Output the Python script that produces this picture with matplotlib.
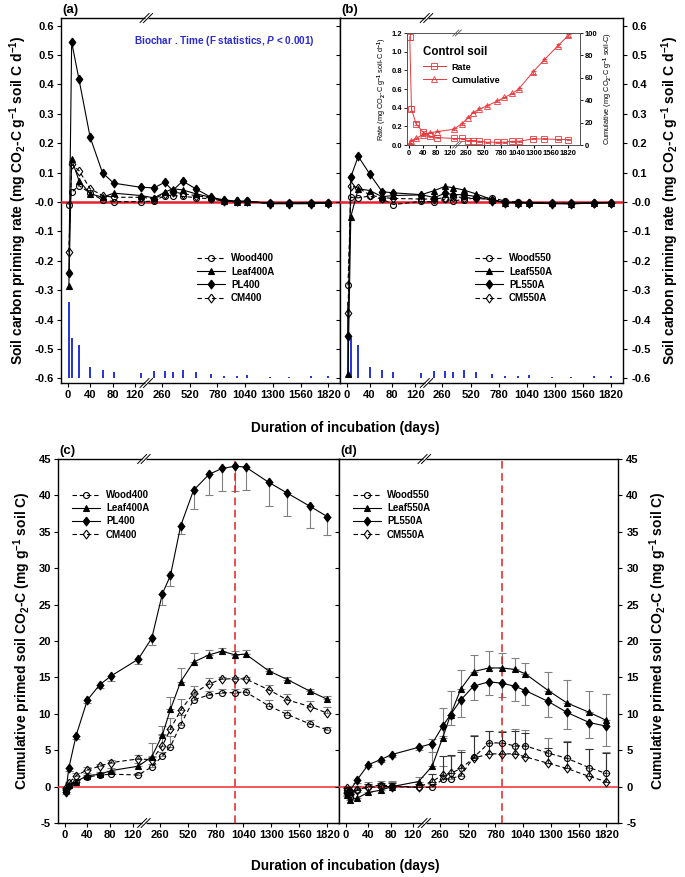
import numpy as np
import matplotlib
matplotlib.use('Agg')
import matplotlib.pyplot as plt
from matplotlib.ticker import NullLocator, FormatStrFormatter
from matplotlib.lines import Line2D

plt.rcParams['font.family'] = ['Liberation Sans', 'DejaVu Sans']
plt.rcParams['font.weight'] = 'bold'
plt.rcParams['axes.unicode_minus'] = False
plt.rcParams['mathtext.fontset'] = 'custom'
plt.rcParams['mathtext.rm'] = 'Liberation Sans:bold'
plt.rcParams['mathtext.it'] = 'Liberation Sans:bold:italic'
plt.rcParams['mathtext.bf'] = 'Liberation Sans:bold'

# sampling days (incubation)
days = [2, 7, 20, 40, 62, 82, 130, 200, 285, 360, 455, 575, 720, 840, 960, 1060, 1275, 1450, 1660, 1820]
xticks = [0, 40, 80, 120, 260, 520, 780, 1040, 1300, 1560, 1820]

# priming rate, 400 C biochars (a)
wood400_rate = [-0.01, 0.033, 0.056, 0.03, 0.007, 0.001, 0.001, 0.003, 0.022, 0.022, 0.019, 0.015, 0.010, 0.003, 0.001, 0.002, -0.005, -0.005, -0.005, -0.004]
leaf400a_rate = [-0.285, 0.145, 0.073, 0.028, 0.016, 0.030, 0.022, 0.014, 0.033, 0.045, 0.041, 0.028, 0.016, 0.004, 0.0, 0.001, -0.004, -0.004, -0.002, -0.002]
pl400_rate = [-0.243, 0.544, 0.418, 0.220, 0.099, 0.064, 0.050, 0.048, 0.067, 0.039, 0.071, 0.045, 0.016, 0.007, 0.003, 0.003, -0.006, -0.006, -0.006, -0.004]
cm400_rate = [-0.171, 0.128, 0.107, 0.045, 0.022, 0.016, 0.016, 0.011, 0.028, 0.035, 0.028, 0.022, 0.014, 0.004, 0.002, 0.002, -0.004, -0.004, -0.004, -0.003]

# priming rate, 550 C biochars (b)
wood550_rate = [-0.284, 0.016, 0.014, 0.020, 0.010, -0.009, 0.002, 0.0, 0.010, 0.004, 0.008, 0.014, 0.014, 0.003, 0.0, -0.002, -0.004, -0.004, -0.003, -0.002]
leaf550a_rate = [-0.587, -0.05, 0.045, 0.039, 0.018, 0.022, 0.024, 0.039, 0.053, 0.048, 0.041, 0.027, 0.008, -0.002, -0.003, -0.003, -0.005, -0.006, -0.004, -0.002]
pl550a_rate = [-0.455, 0.085, 0.155, 0.096, 0.035, 0.031, 0.025, 0.015, 0.030, 0.025, 0.025, 0.018, 0.005, -0.002, -0.003, -0.003, -0.006, -0.006, -0.004, -0.002]
cm550a_rate = [-0.378, 0.056, 0.048, 0.024, 0.015, 0.012, 0.010, 0.010, 0.015, 0.018, 0.015, 0.012, 0.008, 0.0, -0.002, -0.002, -0.004, -0.004, -0.003, -0.002]

# LSD bars (Biochar x Time), drawn up from -0.6
lsd = [0.26, 0.138, 0.112, 0.038, 0.029, 0.021, 0.018, 0.024, 0.025, 0.021, 0.027, 0.021, 0.013, 0.009, 0.009, 0.011, 0.006, 0.006, 0.007, 0.008]

# control soil (inset)
ctrl_rate = [1.16, 0.39, 0.23, 0.14, 0.095, 0.08, 0.07, 0.07, 0.045, 0.045, 0.04, 0.03, 0.03, 0.03, 0.04, 0.04, 0.065, 0.065, 0.06, 0.058]
ctrl_rate_err = [0.04, 0.03, 0.02, 0.015, 0.005, 0.005, 0.005, 0.005, 0.005, 0.005, 0.005, 0.005, 0.005, 0.005, 0.005, 0.005, 0.005, 0.005, 0.005, 0.005]
ctrl_cum = [1, 3.8, 6, 9, 11, 12, 14, 19, 24.5, 29, 32, 35, 39, 42.5, 46, 50, 65, 76, 88.6, 97.8]
ctrl_cum_err = [0.5, 0.5, 0.6, 0.8, 0.6, 0.6, 0.8, 0.8, 0.8, 0.8, 0.8, 0.8, 0.8, 0.8, 0.8, 0.8, 1.2, 1.2, 1.5, 1.5]

# cumulative primed C, 400 C biochars (c)
wood400_cum = [-0.5, 0.1, 0.7, 1.3, 1.6, 1.7, 1.6, 2.7, 4.2, 5.5, 8.5, 11.9, 12.6, 12.9, 12.9, 13.0, 11.1, 9.9, 8.6, 7.8]
leaf400a_cum = [-0.4, 0.2, 0.7, 1.5, 1.7, 2.2, 2.8, 4.1, 7.1, 10.6, 14.4, 17.1, 18.1, 18.6, 18.1, 18.2, 15.9, 14.7, 13.1, 12.0]
pl400_cum = [-0.7, 2.5, 7.0, 11.9, 14.0, 15.2, 17.5, 20.4, 26.5, 29.0, 35.8, 40.7, 42.9, 43.7, 44.0, 43.9, 41.8, 40.3, 38.5, 37.1]
cm400_cum = [-0.2, 0.5, 1.5, 2.3, 2.8, 3.3, 3.8, 3.7, 5.6, 7.9, 10.5, 12.8, 14.1, 14.8, 14.8, 14.8, 13.3, 11.9, 11.0, 10.1]
wood400_err = [0.2, 0.2, 0.3, 0.3, 0.3, 0.3, 0.3, 0.4, 0.6, 1.4, 1.4, 0.8, 0.5, 0.5, 0.5, 0.5, 0.8, 0.6, 0.5, 0.4]
leaf400a_err = [0.2, 0.2, 0.3, 0.3, 0.3, 0.3, 0.4, 1.9, 1.2, 1.7, 1.9, 1.3, 0.6, 0.5, 0.5, 0.5, 0.4, 0.4, 0.3, 0.4]
pl400_err = [0.3, 0.3, 0.4, 0.4, 0.5, 0.7, 0.6, 0.9, 1.5, 1.4, 1.1, 2.5, 2.8, 3.1, 3.4, 3.2, 3.2, 3.1, 3.0, 2.6]
cm400_err = [0.2, 0.2, 0.4, 0.4, 0.3, 0.3, 0.6, 0.5, 1.6, 1.5, 1.5, 1.0, 0.8, 0.3, 0.3, 0.3, 0.7, 0.8, 0.8, 0.8]

# cumulative primed C, 550 C biochars (d)
wood550_cum = [-0.5, -1.4, -0.5, 0.0, 0.2, 0.1, -0.1, -0.1, 1.0, 1.1, 1.5, 4.0, 6.0, 6.0, 5.6, 5.6, 4.6, 3.9, 2.6, 1.8]
leaf550a_cum = [-1.2, -1.8, -1.6, -0.8, -0.5, 0.0, 0.7, 2.8, 6.7, 9.9, 13.4, 15.8, 16.3, 16.3, 16.1, 15.5, 13.2, 11.5, 10.2, 9.1]
pl550a_cum = [-0.9, -0.6, 0.9, 3.0, 3.7, 4.4, 5.4, 5.9, 8.3, 9.9, 11.9, 13.8, 14.4, 14.2, 13.8, 13.2, 11.7, 10.2, 8.8, 8.3]
cm550a_cum = [-0.2, -1.0, -0.4, -0.1, 0.0, 0.0, -0.1, 0.7, 1.6, 1.8, 2.5, 3.9, 4.5, 4.5, 4.5, 4.1, 3.2, 2.5, 1.4, 0.7]
wood550_err = [0.4, 0.5, 0.6, 0.6, 0.6, 0.6, 0.5, 0.5, 1.8, 3.1, 3.5, 3.1, 1.7, 1.7, 2.3, 2.2, 2.1, 2.3, 2.5, 2.9]
leaf550a_err = [0.5, 0.6, 0.8, 0.8, 0.9, 0.8, 0.6, 3.7, 4.1, 3.3, 2.6, 2.3, 2.3, 2.0, 1.6, 1.5, 2.5, 3.1, 3.0, 3.6]
pl550a_err = [0.4, 0.4, 0.4, 0.3, 0.3, 0.4, 0.4, 1.1, 1.4, 1.5, 2.3, 1.9, 1.8, 1.9, 2.1, 2.0, 2.2, 2.3, 2.1, 2.7]
cm550a_err = [0.3, 0.4, 0.5, 0.5, 0.5, 0.5, 0.4, 1.0, 2.6, 2.6, 2.3, 3.0, 3.1, 3.0, 3.2, 3.2, 2.1, 3.6, 3.7, 3.9]

peak_day_c = 960
peak_day_d = 840

# broken time axis: 0-140 d on one scale, then compressed after the break
BRK_DAYS = [-1000, 140, 260, 5000]
BRK_POS = [-1000, 140, 168, 168 + (5000 - 260) * 0.19]


def fwd(t):
    return np.interp(t, BRK_DAYS, BRK_POS)


def inv(p):
    return np.interp(p, BRK_POS, BRK_DAYS)


FIG_W, FIG_H = 685, 877
fig = plt.figure(figsize=(FIG_W / 100, FIG_H / 100), dpi=100)

RED = '#e4202a'
LW = 0.8
# SigmaPlot-like diamond: taller than wide
TALL_D = [(0, 1), (0.74, 0), (0, -1), (-0.74, 0), (0, 1)]
STYLE = {
    'wood': dict(marker='o', mfc='none', mec='k', color='k', ls=(0, (4, 2.5)), ms=4.3),
    'leaf': dict(marker='^', mfc='k', mec='k', color='k', ls='-', ms=4.9),
    'pl': dict(marker=TALL_D, mfc='k', mec='k', color='k', ls='-', ms=6.4),
    'cm': dict(marker=TALL_D, mfc='none', mec='k', color='k', ls=(0, (4, 2.5)), ms=6.4),
}


def px_axes(l, t, r, b):
    return fig.add_axes([l / FIG_W, 1 - b / FIG_H, (r - l) / FIG_W, (b - t) / FIG_H])


def time_axis(ax, xmin=-12, xmax=1930, size=8):
    ax.set_xscale('function', functions=(fwd, inv))
    ax.set_xlim(xmin, xmax)
    ax.set_xticks(xticks)
    ax.set_xticklabels([str(t) for t in xticks])
    ax.xaxis.set_minor_locator(NullLocator())
    ax.tick_params(axis='x', direction='out', length=3, width=0.8, labelsize=size, pad=2, top=False)
    for s in ax.spines.values():
        s.set_linewidth(1.0)


def add_break(ax, day=140, half=4.5, gap=3.5, lw=0.7, color='k'):
    x0, x1 = ax.get_xlim()
    fx = (fwd(day) - fwd(x0)) / (fwd(x1) - fwd(x0))
    pos = ax.get_position()
    wpx = pos.width * FIG_W
    hpx = pos.height * FIG_H
    dx, dy, g = half / wpx, half / hpx, gap / wpx
    for y in (0, 1):
        ax.plot([fx - g / 2, fx + g / 2], [y, y], color='white', lw=2, transform=ax.transAxes,
                clip_on=False, zorder=10, solid_capstyle='butt')
        for s in (-g / 2, g / 2):
            ax.plot([fx + s - dx, fx + s + dx], [y - dy, y + dy], color=color, lw=lw,
                    transform=ax.transAxes, clip_on=False, zorder=11)


def series(ax, key, vals, label, err=None, up=True, ecolor='#808080'):
    if err is not None:
        e = np.array(err)
        z = np.zeros_like(e)
        yerr = [z, e] if up else [e, z]
        ax.errorbar(days, vals, yerr=yerr, fmt='none', ecolor=ecolor, elinewidth=0.8,
                    capsize=2.6, capthick=0.8, zorder=2)
    st = STYLE[key]
    ax.plot(days, vals, label=label, lw=LW, zorder=4, mew=0.8, **st)


# ---------------- (a) and (b): priming rate ----------------
YLIM_RATE = (-0.616, 0.626)
rate_ticks = np.round(np.arange(-0.6, 0.61, 0.1), 1)

ax_a = px_axes(61, 18, 340, 383)
ax_b = px_axes(340, 18, 623, 383)

for ax in (ax_a, ax_b):
    time_axis(ax)
    ax.set_ylim(*YLIM_RATE)
    ax.set_yticks(rate_ticks)
    ax.yaxis.set_major_formatter(FormatStrFormatter('%.1f'))
    ax.axhline(0, color=RED, lw=1.8, zorder=3)
    ax.vlines(days, -0.6, -0.6 + np.array(lsd), color='#2432d8', lw=1.4, zorder=1)

ax_a.tick_params(axis='y', direction='out', length=3, width=0.8, labelsize=8, pad=2, right=False)
ax_b.tick_params(axis='y', direction='out', length=3, width=0.8, labelsize=8, pad=3,
                 left=True, labelleft=False, right=True, labelright=True)

series(ax_a, 'wood', wood400_rate, 'Wood400')
series(ax_a, 'leaf', leaf400a_rate, 'Leaf400A')
series(ax_a, 'pl', pl400_rate, 'PL400')
series(ax_a, 'cm', cm400_rate, 'CM400')

series(ax_b, 'wood', wood550_rate, 'Wood550')
series(ax_b, 'leaf', leaf550a_rate, 'Leaf550A')
series(ax_b, 'pl', pl550a_rate, 'PL550A')
series(ax_b, 'cm', cm550a_rate, 'CM550A')

rate_label = 'Soil carbon priming rate (mg CO$_2$-C g$^{-1}$ soil C d$^{-1}$)'
ax_a.set_ylabel(rate_label, fontsize=10, fontweight='bold', labelpad=4)
ax_b.yaxis.set_label_position('right')
ax_b.set_ylabel(rate_label, fontsize=10, fontweight='bold', labelpad=6)

leg_kw = dict(frameon=False, fontsize=7, handlelength=2.9, handletextpad=0.6,
              labelspacing=0.33, borderpad=0, borderaxespad=0, loc='upper left')
ax_a.legend(bbox_to_anchor=(0.487, 0.355), **leg_kw)
ax_b.legend(bbox_to_anchor=(0.477, 0.355), **leg_kw)

ax_a.text(0.585, 0.938, 'Biochar . Time (F statistics, $P$ < 0.001)', transform=ax_a.transAxes,
          ha='center', va='center', color='#2a2ad0', fontsize=7.2, fontweight='bold')

add_break(ax_a)
add_break(ax_b)

# inset: control soil
ax_in = px_axes(407, 33, 580, 145)
time_axis(ax_in, xmin=-6, xmax=2000, size=5.5)
ax_in.tick_params(axis='x', length=2, pad=1.5)
ax_in.set_ylim(0, 1.2)
ax_in.set_yticks(np.round(np.arange(0, 1.21, 0.2), 1))
ax_in.yaxis.set_major_formatter(FormatStrFormatter('%.1f'))
ax_in.tick_params(axis='y', direction='out', length=2, width=0.6, labelsize=5.5, pad=1.5)
ax_in2 = ax_in.twinx()
ax_in2.set_ylim(0, 100)
ax_in2.set_yticks([0, 20, 40, 60, 80, 100])
ax_in2.tick_params(axis='y', direction='out', length=2, width=0.6, labelsize=5.5, pad=1.5)
for a in (ax_in, ax_in2):
    for s in a.spines.values():
        s.set_linewidth(0.7)
        s.set_color('#555555')

IRED = '#e8383d'
ax_in.errorbar(days, ctrl_rate, yerr=ctrl_rate_err, fmt='none', ecolor=IRED, elinewidth=0.6, capsize=1.8, capthick=0.6)
ax_in.plot(days, ctrl_rate, color=IRED, lw=0.7, marker='s', ms=4, mfc='none', mec=IRED, mew=0.6)
ax_in2.errorbar(days, ctrl_cum, yerr=ctrl_cum_err, fmt='none', ecolor=IRED, elinewidth=0.6, capsize=1.8, capthick=0.6)
ax_in2.plot(days, ctrl_cum, color=IRED, lw=0.7, marker='^', ms=4.4, mfc='none', mec=IRED, mew=0.6)

ax_in.set_ylabel('Rate (mg CO$_2$-C g$^{-1}$ soil-C d$^{-1}$)', fontsize=5.3, fontweight='normal', labelpad=2)
ax_in2.set_ylabel('Cumulative (mg CO$_2$-C g$^{-1}$ soil-C)', fontsize=5.3, fontweight='normal', labelpad=3)

h_rate = Line2D([], [], color=IRED, lw=0.7, marker='s', ms=4, mfc='none', mec=IRED, mew=0.6)
h_cum = Line2D([], [], color=IRED, lw=0.7, marker='^', ms=4.4, mfc='none', mec=IRED, mew=0.6)
lg = ax_in.legend([h_rate, h_cum], ['Rate', 'Cumulative'], title='Control soil', frameon=False,
                  fontsize=6.5, title_fontproperties={'size': 8.3, 'weight': 'bold'},
                  loc='upper left', bbox_to_anchor=(0.09, 0.88), borderpad=0, borderaxespad=0,
                  handlelength=2.6, handletextpad=0.6, labelspacing=0.45, alignment='left')
add_break(ax_in, half=3, gap=2.5, lw=0.6, color='#555555')

# ---------------- (c) and (d): cumulative primed C ----------------
ax_c = px_axes(58, 459, 339, 823)
ax_d = px_axes(339, 459, 618, 823)

for ax in (ax_c, ax_d):
    time_axis(ax)
    ax.set_ylim(-5, 45)
    ax.set_yticks(range(-5, 46, 5))
    ax.axhline(0, color='#f03c3c', lw=1.2, zorder=3)

ax_c.axvline(peak_day_c, color='#e02020', lw=1.1, ls=(0, (5, 3)), zorder=3)
ax_d.axvline(peak_day_d, color='#e02020', lw=1.1, ls=(0, (5, 3)), zorder=3)

ax_c.tick_params(axis='y', direction='out', length=3, width=0.8, labelsize=8, pad=2, right=False)
ax_d.tick_params(axis='y', direction='out', length=3, width=0.8, labelsize=8, pad=3,
                 left=True, labelleft=False, right=True, labelright=True)

series(ax_c, 'wood', wood400_cum, 'Wood400', wood400_err)
series(ax_c, 'leaf', leaf400a_cum, 'Leaf400A', leaf400a_err)
series(ax_c, 'pl', pl400_cum, 'PL400', pl400_err, up=False)
series(ax_c, 'cm', cm400_cum, 'CM400', cm400_err)

series(ax_d, 'wood', wood550_cum, 'Wood550', wood550_err)
series(ax_d, 'leaf', leaf550a_cum, 'Leaf550A', leaf550a_err)
series(ax_d, 'pl', pl550a_cum, 'PL550A', pl550a_err, up=False)
series(ax_d, 'cm', cm550a_cum, 'CM550A', cm550a_err, ecolor='#333333')

cum_label = 'Cumulative primed soil CO$_2$-C (mg g$^{-1}$ soil C)'
ax_c.set_ylabel(cum_label, fontsize=10, fontweight='bold', labelpad=4)
ax_d.yaxis.set_label_position('right')
ax_d.set_ylabel(cum_label, fontsize=10, fontweight='bold', labelpad=6)

ax_c.legend(bbox_to_anchor=(0.05, 0.915), **leg_kw)
ax_d.legend(bbox_to_anchor=(0.05, 0.915), **leg_kw)

add_break(ax_c)
add_break(ax_d)

# panel letters and shared x labels
for ax, lab in ((ax_a, '(a)'), (ax_b, '(b)'), (ax_c, '(c)'), (ax_d, '(d)')):
    ax.text(0.005, 1.005, lab, transform=ax.transAxes, ha='left', va='bottom', fontsize=9.5, fontweight='bold')

fig.text(345 / FIG_W, 1 - 428 / FIG_H, 'Duration of incubation (days)', ha='center', va='center',
         fontsize=9.8, fontweight='bold')
fig.text(345 / FIG_W, 1 - 866 / FIG_H, 'Duration of incubation (days)', ha='center', va='center',
         fontsize=9.8, fontweight='bold')

fig.savefig('out.png', dpi=100)
